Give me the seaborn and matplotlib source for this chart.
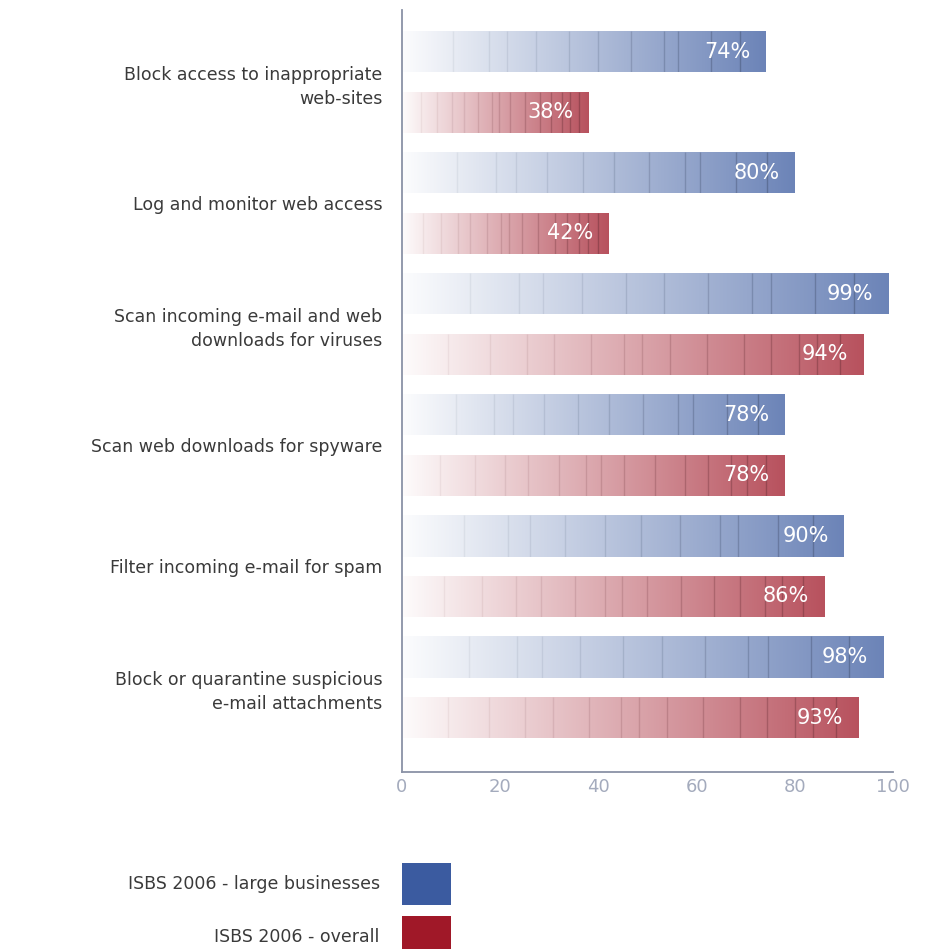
import numpy as np
import pandas as pd
import matplotlib
matplotlib.use("Agg")
import matplotlib.pyplot as plt
import matplotlib.colors as mcolors
import seaborn as sns

# Survey data: share of businesses using each web / e-mail control
measures = [
    "Block access to inappropriate\nweb-sites",
    "Log and monitor web access",
    "Scan incoming e-mail and web\ndownloads for viruses",
    "Scan web downloads for spyware",
    "Filter incoming e-mail for spam",
    "Block or quarantine suspicious\ne-mail attachments",
]
large_businesses = [74, 80, 99, 78, 90, 98]
overall = [38, 42, 94, 78, 86, 93]
series_names = ["ISBS 2006 - large businesses", "ISBS 2006 - overall"]
series_colors = ["#3b5ba0", "#a01828"]
x_ticks = [0, 20, 40, 60, 80, 100]

# Decorative texture: faint vertical streaks inside each bar (fraction of bar length)
stripe_fractions = [
    [0.14, 0.24, 0.29, 0.37, 0.46, 0.54, 0.63, 0.72, 0.76, 0.85, 0.93],
    [0.10, 0.19, 0.27, 0.33, 0.41, 0.48, 0.52, 0.58, 0.66, 0.74, 0.80, 0.86, 0.90, 0.95],
]

df = pd.DataFrame({
    "measure": measures * 2,
    "value": large_businesses + overall,
    "series": [series_names[0]] * len(measures) + [series_names[1]] * len(measures),
})

sns.set_style("white")
plt.rcParams["font.family"] = ["DejaVu Sans"]

fig = plt.figure(figsize=(9.29, 9.49), dpi=100)
ax = fig.add_axes([0.4327, 0.1865, 0.5285, 0.803])

sns.barplot(
    data=df, x="value", y="measure", hue="series", orient="h",
    palette=series_colors, width=1.0, gap=0.32, ax=ax,
    saturation=1.0, errorbar=None, linewidth=0,
)

# Legend with large swatches to the right of the labels, below the plot
sns.move_legend(
    ax, "upper right", title=None, frameon=False,
    markerfirst=False, fontsize=12.5, handlelength=2.8, handleheight=3.31,
    handletextpad=1.3, labelspacing=0.68, borderpad=0, borderaxespad=0,
)
leg = ax.get_legend()
leg.set_bbox_to_anchor((0.4855, 0.0907), transform=fig.transFigure)
for t in leg.get_texts():
    t.set_color("#3a3a3a")

# Replace flat fills by white-to-colour gradients with streaks
value_lists = [large_businesses, overall]
for k, container in enumerate(ax.containers):
    base = np.array(mcolors.to_rgb(series_colors[k]))
    end = 0.75 * base + 0.25
    n = 256
    t = np.linspace(0.02, 1.0, n)[:, None]
    grad = (1 - t) * np.ones(3) + t * end
    dark = end * 0.55
    for bar, v in zip(container.patches, value_lists[k]):
        x0, y0 = bar.get_x(), bar.get_y()
        w, h = bar.get_width(), bar.get_height()
        bar.set_facecolor("none")
        bar.set_edgecolor("none")
        im = ax.imshow(grad[None, :, :], extent=(x0, x0 + w, y0 + h, y0),
                       aspect="auto", interpolation="bilinear", zorder=2)
        im.set_clip_path(bar)
        for f in stripe_fractions[k]:
            ln = ax.vlines(x0 + f * w, y0, y0 + h, color=dark,
                           alpha=0.06 + 0.4 * f ** 1.8, lw=1.0, zorder=3)
            ln.set_clip_path(bar)
        ax.annotate(f"{v}%", xy=(v, y0 + h / 2), xytext=(-11, 0),
                    textcoords="offset points", ha="right", va="center",
                    color="white", fontsize=15, zorder=4)

ax.set_xlim(0, 100)
ax.set_ylim(5.70, -0.595)
ax.set_xticks(x_ticks)
ax.set_xlabel("")
ax.set_ylabel("")

axis_color = "#8a92a6"
for side in ["top", "right"]:
    ax.spines[side].set_visible(False)
for side in ["left", "bottom"]:
    ax.spines[side].set_color(axis_color)
    ax.spines[side].set_linewidth(1.3)

ax.tick_params(axis="x", direction="in", length=6, width=1.2, color=axis_color,
               labelcolor="#a4abbd", labelsize=13, pad=4)
ax.tick_params(axis="y", length=0, pad=14, labelsize=12.5, labelcolor="#3a3a3a")
for lab in ax.get_yticklabels():
    lab.set_linespacing(1.4)

fig.savefig("out.png", dpi=100, facecolor="white")
